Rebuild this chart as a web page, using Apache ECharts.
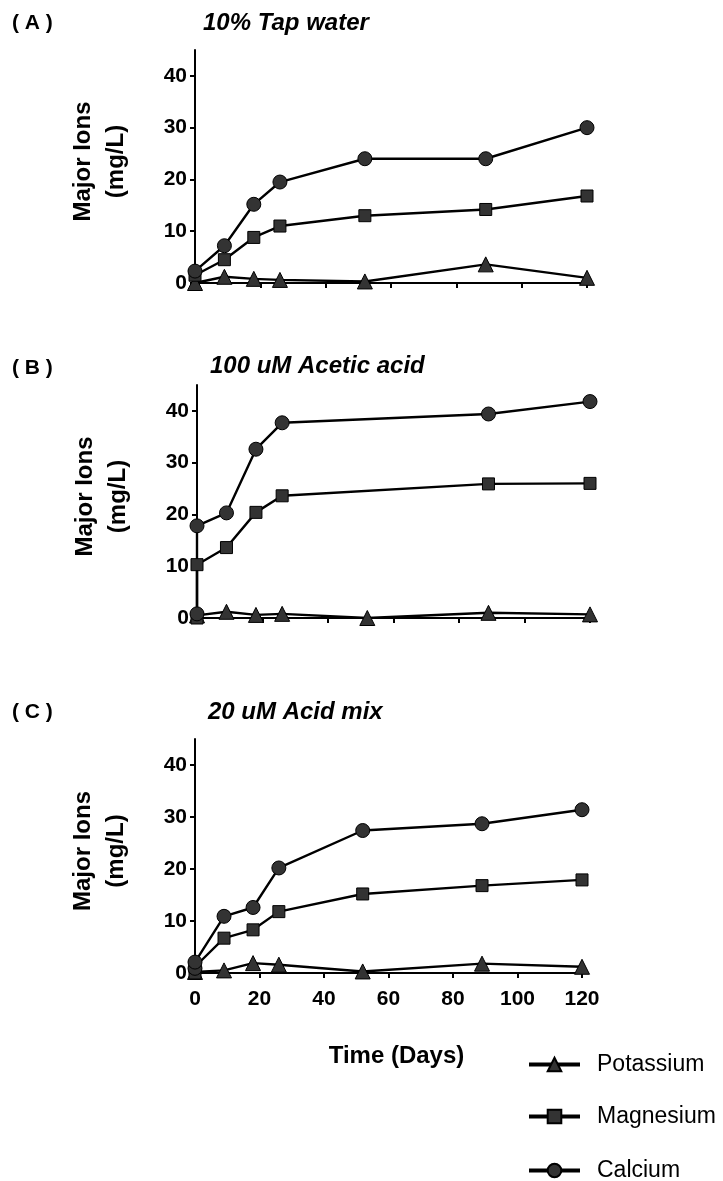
<!DOCTYPE html>
<html lang="en">
<head>
    <meta charset="UTF-8">
    <title>Major ions</title>
    <script src="https://cdn.jsdelivr.net/npm/echarts@6/dist/echarts.min.js"></script>
    <style>
        html, body { margin: 0; padding: 0; background: #fff; }
        #chart { width: 723px; height: 1181px; }
    </style>
</head>
<body>
<div id="chart"></div>
<script type="text/javascript">
    // days of sampling (panels B and C have two readings on day 0)
    var daysA = [0, 9, 18, 26, 52, 89, 120];
    var daysB = [0, 0, 9, 18, 26, 52, 89, 120];
    var daysC = [0, 0, 9, 18, 26, 52, 89, 120];

    // (A) 10% Tap water
    var tapK  = [0.0, 1.2, 0.8, 0.6, 0.3, 3.6, 1.0];
    var tapMg = [1.5, 4.5, 8.8, 11.0, 13.0, 14.2, 16.8];
    var tapCa = [2.3, 7.2, 15.2, 19.5, 24.0, 24.0, 30.0];

    // (B) 100 uM Acetic acid
    var aceticK  = [0.5, null, 1.2, 0.6, 0.8, 0.0, 1.0, 0.7];
    var aceticMg = [0.0, 10.3, 13.6, 20.4, 23.6, null, 25.9, 26.0];
    var aceticCa = [0.8, 17.8, 20.3, 32.6, 37.7, null, 39.4, 41.8];

    // (C) 20 uM Acid mix
    var mixK  = [0.2, null, 0.5, 1.9, 1.6, 0.3, 1.8, 1.2];
    var mixMg = [0.0, 1.2, 6.7, 8.3, 11.8, 15.2, 16.8, 17.9];
    var mixCa = [0.9, 2.1, 10.9, 12.6, 20.2, 27.4, 28.7, 31.4];

    var ions = ['Potassium', 'Magnesium', 'Calcium'];
    var yTicks = [0, 10, 20, 30, 40];

    var font = 'Arial, "Liberation Sans", sans-serif';

    function pairs(days, vals) {
        var out = [];
        for (var i = 0; i < days.length; i++) {
            if (vals[i] !== null) out.push([days[i], vals[i]]);
        }
        return out;
    }

    function xAxis(idx, showLabels) {
        var ax = {
            gridIndex: idx,
            type: 'value',
            min: 0, max: 120, interval: 20,
            splitLine: { show: false },
            axisLine: { lineStyle: { color: '#000', width: 2 } },
            axisTick: { show: true, inside: false, length: 5, lineStyle: { color: '#000', width: 2 } },
            axisLabel: {
                show: showLabels, margin: 16,
                fontFamily: font, fontSize: 21, fontWeight: 'bold', color: '#000'
            }
        };
        if (showLabels) {
            ax.name = 'Time (Days)';
            ax.nameLocation = 'middle';
            ax.nameGap = 71;
            ax.nameTextStyle = { fontFamily: font, fontSize: 24, fontWeight: 'bold', color: '#000', padding: [0, 0, 0, 16] };
        }
        return ax;
    }

    function yAxis(idx) {
        return {
            gridIndex: idx,
            type: 'value',
            min: 0, max: 45, interval: 10,
            splitLine: { show: false },
            axisLine: { show: true, lineStyle: { color: '#000', width: 2 } },
            axisTick: { show: true, inside: false, length: 5, customValues: yTicks, lineStyle: { color: '#000', width: 2 } },
            axisLabel: {
                customValues: yTicks, margin: 8,
                fontFamily: font, fontSize: 21, fontWeight: 'bold', color: '#000'
            },
            name: 'Major Ions\n(mg/L)',
            nameLocation: 'middle',
            nameGap: 62,
            nameTextStyle: { fontFamily: font, fontSize: 24, fontWeight: 'bold', color: '#000', lineHeight: 33, padding: [0, 0, 0, 10] }
        };
    }

    function line(name, idx, days, vals, symbol, size) {
        return {
            name: name,
            type: 'line',
            xAxisIndex: idx, yAxisIndex: idx,
            data: pairs(days, vals),
            connectNulls: true,
            clip: false,
            symbol: symbol,
            symbolSize: size,
            showAllSymbol: true,
            lineStyle: { color: '#000', width: 2.4 },
            itemStyle: { color: '#333', borderColor: '#000', borderWidth: 1 },
            emphasis: { disabled: true },
            animation: false
        };
    }

    function title(text, left, top, size, italic) {
        return {
            text: text, left: left, top: top, padding: 0,
            textStyle: { fontFamily: font, fontSize: size, fontWeight: 'bold', fontStyle: italic ? 'italic' : 'normal', color: '#000' }
        };
    }

    // one legend box per ion, stacked at the bottom right
    function legend(name, top) {
        return {
            orient: 'vertical',
            left: 527, top: top,
            padding: 0,
            itemWidth: 51, itemHeight: 17,
            data: [name],
            lineStyle: { width: 4, color: '#000' },
            textStyle: { fontFamily: font, fontSize: 23, color: '#000', padding: [0, 0, 0, 12] }
        };
    }

    var myChart = echarts.init(document.getElementById('chart'), null, { renderer: 'canvas' });
    var option = {
        backgroundColor: '#fff',
        animation: false,
        title: [
            title('( A )', 12, 13, 21, false),
            title('10% Tap water', 203, 11, 24, true),
            title('( B )', 12, 358, 21, false),
            title('100 uM Acetic acid', 210, 354, 24, true),
            title('( C )', 12, 702, 21, false),
            title('20 uM Acid mix', 208, 700, 24, true)
        ],
        legend: [
            legend(ions[0], 1053),
            legend(ions[1], 1105),
            legend(ions[2], 1159)
        ],
        grid: [
            { left: 195, top: 50, width: 392, height: 233 },
            { left: 197, top: 385, width: 393, height: 233 },
            { left: 195, top: 739, width: 387, height: 234 }
        ],
        xAxis: [xAxis(0, false), xAxis(1, false), xAxis(2, true)],
        yAxis: [yAxis(0), yAxis(1), yAxis(2)],
        series: [
            line(ions[0], 0, daysA, tapK, 'triangle', 15),
            line(ions[1], 0, daysA, tapMg, 'rect', 12),
            line(ions[2], 0, daysA, tapCa, 'circle', 14),
            line(ions[0], 1, daysB, aceticK, 'triangle', 15),
            line(ions[1], 1, daysB, aceticMg, 'rect', 12),
            line(ions[2], 1, daysB, aceticCa, 'circle', 14),
            line(ions[0], 2, daysC, mixK, 'triangle', 15),
            line(ions[1], 2, daysC, mixMg, 'rect', 12),
            line(ions[2], 2, daysC, mixCa, 'circle', 14)
        ]
    };
    myChart.setOption(option);
</script>
</body>
</html>
